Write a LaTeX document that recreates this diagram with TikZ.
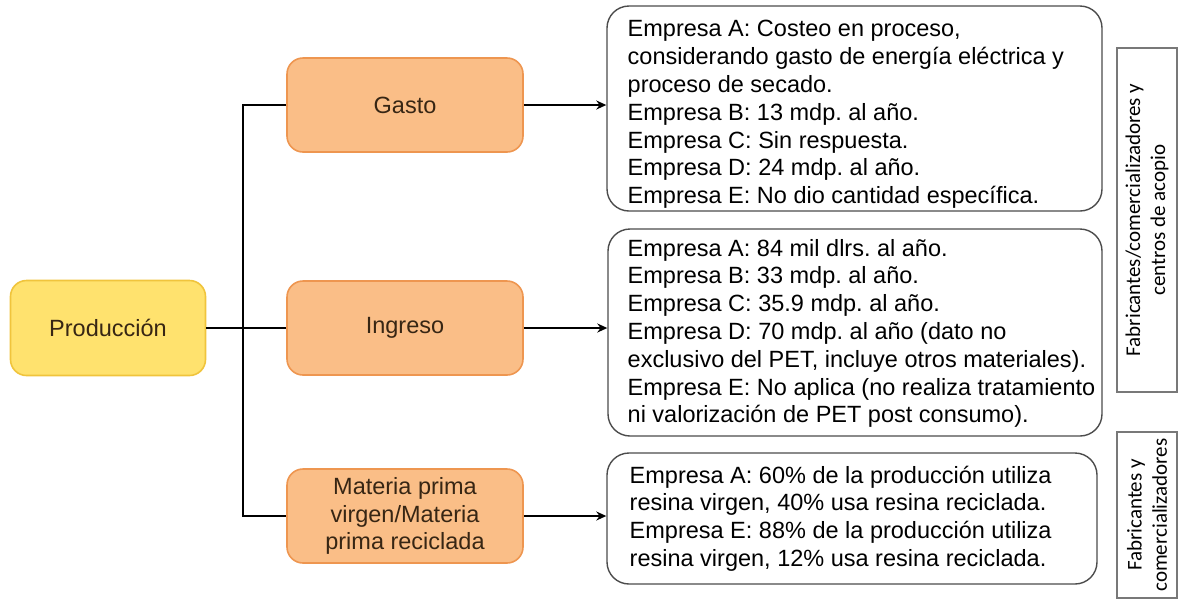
\documentclass[tikz,border=0pt]{standalone}
\usepackage{fontspec}
\setmainfont{Liberation Sans}
\newfontfamily\sidefont{Carlito}
\usetikzlibrary{arrows.meta}
\frenchspacing
\definecolor{prodfill}{RGB}{255,226,110}
\definecolor{prodline}{RGB}{240,196,60}
\definecolor{ramafill}{RGB}{250,190,135}
\definecolor{ramaline}{RGB}{238,150,80}
\definecolor{ramatext}{RGB}{55,38,20}
\definecolor{sideline}{RGB}{120,120,120}

\begin{document}
\begin{tikzpicture}[x=0.5pt,y=-0.5pt,>={Stealth[length=5pt,width=4.5pt]},
	every node/.style={font=\fontsize{11.75}{13.9}\selectfont},
	prodbox/.style={draw=prodline, fill=prodfill, line width=0.8pt, rounded corners=8pt, minimum width=97.5pt, minimum height=47.5pt, text=ramatext},
	ramabox/.style={draw=ramaline, fill=ramafill, line width=0.8pt, rounded corners=8pt, minimum width=118pt, minimum height=47pt, align=center, text=ramatext},
	infobox/.style={draw=black!70, line width=0.7pt, rounded corners=11pt},
	infotext/.style={anchor=west, align=left, inner sep=0pt},
	sidebox/.style={draw=sideline, line width=0.8pt, rotate=90, align=center, minimum height=30pt, font=\sidefont\fontsize{10.5}{12.6}\selectfont},
	conn/.style={line width=1pt}]
			\useasboundingbox (0,0) rectangle (1178,601);
			\node[prodbox] (prod) at (108,328) {Producción};
			\node[ramabox] (gasto) at (405,105) {Gasto};
			\node[ramabox] (ingreso) at (405,328) {Ingreso};
			\node[ramabox] (mp) at (405,516) {Materia prima\\virgen/Materia\\prima reciclada};
			\coordinate (tronco) at (243,328);
			\draw[conn] (gasto.west) -| (tronco) |- (mp.west);
			\draw[conn] (prod.east) -- (ingreso.west);
			\node[infobox, minimum width=247.5pt, minimum height=102.5pt] (infogasto) at (854.5,108.5) {};
			\node[infobox, minimum width=247pt, minimum height=103.5pt] (infoingreso) at (855,332.5) {};
			\node[infobox, minimum width=245pt, minimum height=65.5pt] (infomp) at (852,518.5) {};
			\node[infotext] (txtgasto) at ([xshift=10.5pt,yshift=-3pt]infogasto.west) {Empresa A: Costeo en proceso,\\considerando gasto de energía eléctrica y\\proceso de secado.\\Empresa B: 13 mdp. al año.\\Empresa C: Sin respuesta.\\Empresa D: 24 mdp. al año.\\Empresa E: No dio cantidad específica.};
			\node[infotext] (txtingreso) at ([xshift=10pt,yshift=-0.5pt]infoingreso.west) {Empresa A: 84 mil dlrs. al año.\\Empresa B: 33 mdp. al año.\\Empresa C: 35.9 mdp. al año.\\Empresa D: 70 mdp. al año (dato no\\exclusivo del PET, incluye otros materiales).\\Empresa E: No aplica (no realiza tratamiento\\ni valorización de PET post consumo).};
			\node[infotext] (txtmp) at ([xshift=11.5pt]infomp.west) {Empresa A: 60\% de la producción utiliza\\resina virgen, 40\% usa resina reciclada.\\Empresa E: 88\% de la producción utiliza\\resina virgen, 12\% usa resina reciclada.};
			\draw[conn,->] (gasto.east) -- (gasto.east -| infogasto.west);
			\draw[conn,->] (ingreso.east) -- (ingreso.east -| infoingreso.west);
			\draw[conn,->] (mp.east) -- (mp.east -| infomp.west);
			\node[sidebox, minimum width=172pt] (fabacopio) at (1147,220) {Fabricantes/comercializadores y\\centros de acopio};
			\node[sidebox, minimum width=82pt] (fabcom) at (1147,515) {Fabricantes y\\comercializadores};
		\end{tikzpicture}
\end{document}
